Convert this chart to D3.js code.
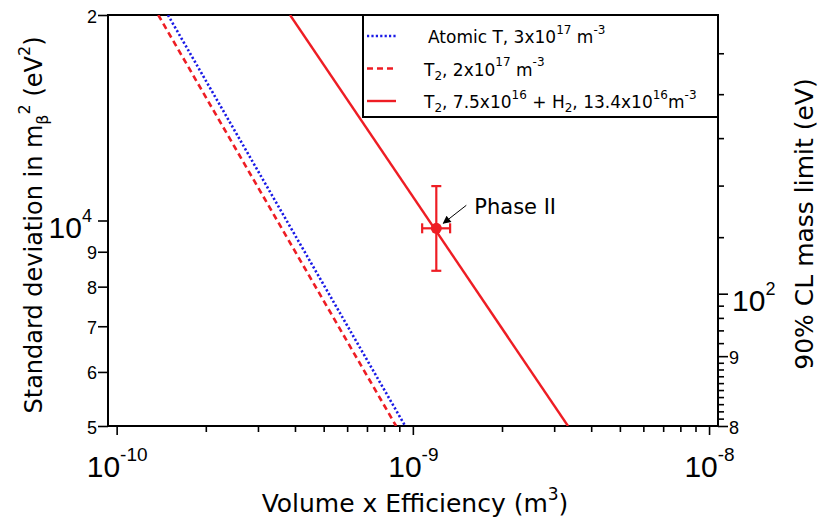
<!DOCTYPE html>
<html>
<head>
<meta charset="UTF-8">
<title>Volume x Efficiency</title>
<script src="https://cdnjs.cloudflare.com/ajax/libs/d3/7.8.5/d3.min.js"></script>
<style>
  body { margin: 0; background: #fff; }
  svg { display: block; font-family: "DejaVu Sans", sans-serif; }
</style>
</head>
<body>
<svg id="chart" width="821" height="520"></svg>
<script>
// curves: volume x efficiency (m^3) vs standard deviation in m_beta^2 (eV^2)
const atomicVol = [1.49e-10, 9.42e-10];
const atomicSigma = [20000, 5000];
const t2Vol = [1.382e-10, 8.78e-10];
const t2Sigma = [20000, 5000];
const mixVol = [3.85e-10, 3.34e-9];
const mixSigma = [20000, 5000];

// Phase II point with error bars
const phaseVol = 1.2e-9, phaseVolLo = 1.075e-9, phaseVolHi = 1.336e-9;
const phaseSigma = 9740, phaseSigmaLo = 8440, phaseSigmaHi = 11230;

// ticks
const xMajor = [1e-10, 1e-9, 1e-8];
const xMinor = [2e-10, 3e-10, 4e-10, 5e-10, 6e-10, 7e-10, 8e-10, 9e-10,
                2e-9, 3e-9, 4e-9, 5e-9, 6e-9, 7e-9, 8e-9, 9e-9];
const yTicks = [5000, 6000, 7000, 8000, 9000, 10000, 20000];
const yTickLabels = [["5"], ["6"], ["7"], ["8"], ["9"], ["10", "4"], ["2"]];
const massMajor = [80, 90, 100];
const massMajorLabels = [["8"], ["9"], ["10", "2"]];
const massMinor = [81, 82, 83, 84, 85, 86, 87, 88, 89, 92, 94, 96, 98, 110, 120, 130, 140, 150];

// legend texts: [text, "", "sup" or "sub"]
const legendLabels = [
  [["Atomic T, 3x10", ""], ["17", "sup"], [" m", ""], ["-3", "sup"]],
  [["T", ""], ["2", "sub"], [", 2x10", ""], ["17", "sup"], [" m", ""], ["-3", "sup"]],
  [["T", ""], ["2", "sub"], [", 7.5x10", ""], ["16", "sup"], [" + H", ""], ["2", "sub"], [", 13.4x10", ""], ["16", "sup"], ["m", ""], ["-3", "sup"]]
];

const red = "#ee1d24", blue = "#1a1ae6";
const svg = d3.select("#chart");
const L = 108, R = 718, T = 15, B = 426;

const x = d3.scaleLog().domain([9.35e-11, 1.072e-8]).range([L, R]);
const y = d3.scaleLog().domain([5000, 20000]).range([B, T]);
const yMass = d3.scaleLog().domain([80, 160]).range([B, T]);

// write text with super/subscripts as tspans
function rich(textSel, parts, size, smallSize, up = 0.5) {
  let shift = 0;
  parts.forEach(([s, mode]) => {
    const target = mode === "sup" ? -up * size : mode === "sub" ? 0.25 * size : 0;
    textSel.append("tspan")
      .attr("dy", target - shift)
      .style("font-size", (mode ? smallSize : size) + "px")
      .text(s);
    shift = target;
  });
}

svg.append("clipPath").attr("id", "plotclip")
  .append("rect").attr("x", L).attr("y", T).attr("width", R - L).attr("height", B - T);

// bottom axis
const gx = svg.append("g").attr("transform", `translate(0,${B})`);
gx.call(d3.axisBottom(x).tickValues(xMinor).tickSize(6).tickSizeOuter(0).tickFormat(""));
gx.call(g => g.select(".domain").remove());
const gxMaj = svg.append("g").attr("transform", `translate(0,${B})`)
  .call(d3.axisBottom(x).tickValues(xMajor).tickSize(9).tickSizeOuter(0).tickFormat(""));
gxMaj.select(".domain").remove();
gxMaj.selectAll(".tick").each(function(d) {
  const t = d3.select(this).append("text")
    .attr("fill", "#000").attr("y", 51).attr("text-anchor", "middle");
  rich(t, [["10", ""], [String(Math.round(Math.log10(d))), "sup"]], 30, 19, 0.55);
});

// left axis
const gy = svg.append("g").attr("transform", `translate(${L},0)`)
  .call(d3.axisLeft(y).tickValues(yTicks).tickSize(10).tickSizeOuter(0).tickFormat(""));
gy.select(".domain").remove();
gy.selectAll(".tick").each(function(d, i) {
  const lab = yTickLabels[i];
  const big = lab.length > 1;
  const t = d3.select(this).append("text")
    .attr("fill", "#000").attr("text-anchor", "end")
    .attr("x", big ? -16 : -11).attr("y", big ? 17 : 7);
  if (big) rich(t, [[lab[0], ""], [lab[1], "sup"]], 30, 18, 0.55);
  else t.style("font-size", "18px").text(lab[0]);
});

// right axis (mass limit)
const gr = svg.append("g").attr("transform", `translate(${R},0)`);
gr.call(d3.axisRight(yMass).tickValues(massMinor).tickSize(6).tickSizeOuter(0).tickFormat(""));
gr.select(".domain").remove();
const grMaj = svg.append("g").attr("transform", `translate(${R},0)`)
  .call(d3.axisRight(yMass).tickValues(massMajor).tickSize(10).tickSizeOuter(0).tickFormat(""));
grMaj.select(".domain").remove();
grMaj.selectAll(".tick").each(function(d, i) {
  const lab = massMajorLabels[i];
  const big = lab.length > 1;
  const t = d3.select(this).append("text")
    .attr("fill", "#000").attr("text-anchor", "start")
    .attr("x", big ? 14 : 11).attr("y", big ? 17 : 7);
  if (big) rich(t, [[lab[0], ""], [lab[1], "sup"]], 30, 18, 0.55);
  else t.style("font-size", "18px").text(lab[0]);
});
svg.selectAll(".tick line").attr("stroke", "#000").attr("stroke-width", 1.6);

// frame
svg.append("rect").attr("x", L).attr("y", T).attr("width", R - L).attr("height", B - T)
  .attr("fill", "none").attr("stroke", "#000").attr("stroke-width", 2);

// curves
const line = d3.line().x(d => x(d[0])).y(d => y(d[1]));
const plot = svg.append("g").attr("clip-path", "url(#plotclip)");
const curves = [
  { v: atomicVol, s: atomicSigma, color: blue, dash: "2.2,2.2", w: 2.6 },
  { v: t2Vol, s: t2Sigma, color: red, dash: "6,4", w: 2.6 },
  { v: mixVol, s: mixSigma, color: red, dash: null, w: 2.4 }
];
curves.forEach(c => {
  plot.append("path")
    .attr("d", line(d3.zip(c.v, c.s)))
    .attr("fill", "none").attr("stroke", c.color)
    .attr("stroke-width", c.w)
    .attr("stroke-dasharray", c.dash);
});

// Phase II point
const px = x(phaseVol), py = y(phaseSigma);
const ep = svg.append("g").attr("stroke", red).attr("stroke-width", 2.2).attr("fill", "none");
ep.append("line").attr("x1", px).attr("x2", px).attr("y1", y(phaseSigmaHi)).attr("y2", y(phaseSigmaLo));
ep.append("line").attr("x1", px - 5).attr("x2", px + 5).attr("y1", y(phaseSigmaHi)).attr("y2", y(phaseSigmaHi));
ep.append("line").attr("x1", px - 5).attr("x2", px + 5).attr("y1", y(phaseSigmaLo)).attr("y2", y(phaseSigmaLo));
ep.append("line").attr("x1", x(phaseVolLo)).attr("x2", x(phaseVolHi)).attr("y1", py).attr("y2", py);
ep.append("line").attr("x1", x(phaseVolLo)).attr("x2", x(phaseVolLo)).attr("y1", py - 5).attr("y2", py + 5);
ep.append("line").attr("x1", x(phaseVolHi)).attr("x2", x(phaseVolHi)).attr("y1", py - 5).attr("y2", py + 5);
svg.append("circle").attr("cx", px).attr("cy", py).attr("r", 5.5).attr("fill", red);

// annotation
svg.append("defs").append("marker").attr("id", "arr")
  .attr("viewBox", "0 0 10 10").attr("refX", 9).attr("refY", 5)
  .attr("markerWidth", 10).attr("markerHeight", 8).attr("orient", "auto")
  .attr("markerUnits", "userSpaceOnUse")
  .append("path").attr("d", "M0,0L10,5L0,10z").attr("fill", "#000");
svg.append("line").attr("x1", px + 30).attr("y1", py - 23).attr("x2", px + 7).attr("y2", py - 5)
  .attr("stroke", "#000").attr("stroke-width", 1).attr("marker-end", "url(#arr)");
svg.append("text").attr("x", px + 38).attr("y", py - 14)
  .style("font-size", "21px").text("Phase II");

// legend
const lg = svg.append("g");
lg.append("rect").attr("x", 363).attr("y", T).attr("width", R - 363).attr("height", 102)
  .attr("fill", "#fff").attr("stroke", "#000").attr("stroke-width", 2);
legendLabels.forEach((parts, i) => {
  const yy = 36 + i * 32.5;
  const c = curves[i];
  lg.append("line").attr("x1", 367).attr("x2", 396).attr("y1", yy).attr("y2", yy)
    .attr("stroke", c.color).attr("stroke-width", c.w).attr("stroke-dasharray", c.dash);
  const t = lg.append("text").attr("x", i === 0 ? 428 : 424).attr("y", yy + 7);
  rich(t, parts, 17, 12, 0.55);
});

// axis titles
const xt = svg.append("text").attr("x", 415).attr("y", 512).attr("text-anchor", "middle");
rich(xt, [["Volume x Efficiency (m", ""], ["3", "sup"], [")", ""]], 25, 17);

const yt = svg.append("text").attr("transform", "translate(42,225) rotate(-90)").attr("text-anchor", "middle");
rich(yt, [["Standard deviation in m", ""], ["β", "sub"], ["2", "sup"], [" (eV", ""], ["2", "sup"], [")", ""]], 24, 16);

svg.append("text").attr("transform", "translate(813,224) rotate(-90)").attr("text-anchor", "middle")
  .style("font-size", "25px").text("90% CL mass limit (eV)");
</script>
</body>
</html>
